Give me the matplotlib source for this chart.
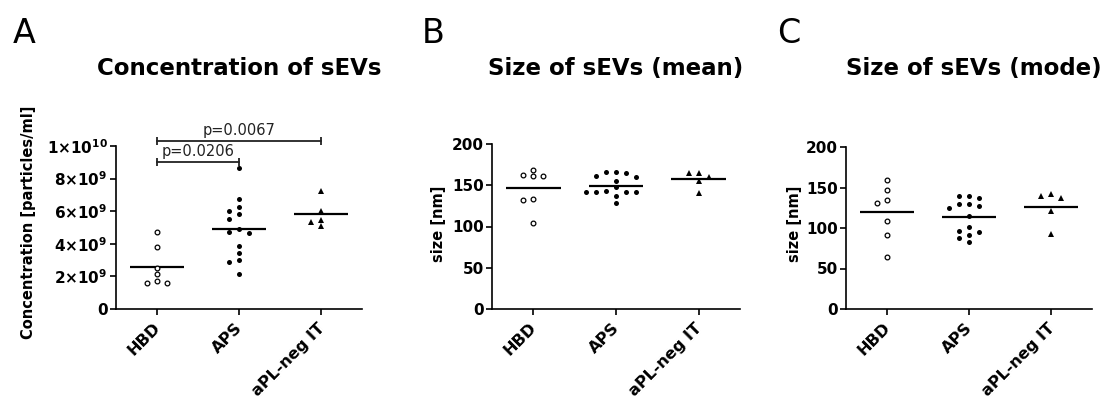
import numpy as np
import matplotlib
matplotlib.use("Agg")
import matplotlib.pyplot as plt
from matplotlib.transforms import ScaledTranslation

W, H = 1102, 399

groups = ["HBD", "APS", "aPL-neg IT"]

# A: concentration of sEVs (particles/ml)
conc_hbd = [4.72e9, 3.80e9, 2.53e9, 2.17e9, 1.72e9, 1.58e9, 1.58e9]
conc_aps = [8.63e9, 6.73e9, 6.26e9, 6.01e9, 5.81e9, 5.50e9, 4.91e9,
            4.74e9, 4.64e9, 3.87e9, 3.42e9, 3.01e9, 2.88e9, 2.13e9]
conc_it = [7.24e9, 6.01e9, 5.46e9, 5.32e9, 5.11e9]
conc_ticks = [0, 2e9, 4e9, 6e9, 8e9, 1e10]
conc_ticklabels = ["0", r"$\mathbf{2{\times}10^{9}}$", r"$\mathbf{4{\times}10^{9}}$",
                   r"$\mathbf{6{\times}10^{9}}$", r"$\mathbf{8{\times}10^{9}}$",
                   r"$\mathbf{1{\times}10^{10}}$"]

# p-value brackets: (from group, to group, height, label)
brackets = [(0, 1, 9.04e9, "p=0.0206"),
            (0, 2, 10.3e9, "p=0.0067")]

# B: size of sEVs (mean), nm
mean_hbd = [168.5, 162.4, 161.6, 161.6, 133.0, 132.1, 104.6]
mean_aps = [166.5, 165.7, 164.4, 161.6, 160.4, 155.5, 147.5,
            142.5, 141.4, 141.4, 141.4, 141.4, 137.3, 128.1]
mean_it = [165.2, 165.2, 160.4, 155.5, 140.2]

# C: size of sEVs (mode), nm
mode_hbd = [158.8, 146.5, 134.2, 130.9, 109.0, 91.0, 63.8]
mode_aps = [139.9, 139.9, 136.6, 129.6, 129.6, 127.2, 124.3,
            114.8, 100.8, 96.7, 94.7, 91.4, 87.2, 83.1]
mode_it = [142.0, 139.9, 136.7, 121.4, 92.6]

size_ticks = [0, 50, 100, 150, 200]

FONT = "DejaVu Sans"
plt.rcParams["font.family"] = FONT
plt.rcParams["mathtext.fontset"] = "dejavusans"


def px_axes(fig, l, t, r, b):
    return fig.add_axes([l / W, 1 - b / H, (r - l) / W, (b - t) / H])


def swarm_x(ax, xc, values, step=0.12, diam=5.5):
    """Greedy column scatter: put each point as close to the centre as it fits."""
    placed, xs = [], []
    order = [0, -1, 1, -2, 2, -3, 3, -4, 4]
    for v in values:
        for k in order:
            x, y = ax.transData.transform((xc + k * step, v))
            if all(np.hypot(x - px, y - py) >= diam for px, py in placed):
                break
        placed.append((x, y))
        xs.append(xc + k * step)
    return xs


def style_axes(fig, ax, ylim, ticks, ticklabels):
    ax.set_xlim(-0.5, 2.5)
    ax.set_ylim(*ylim)
    for s in ("top", "right"):
        ax.spines[s].set_visible(False)
    for s in ("left", "bottom"):
        ax.spines[s].set_linewidth(1.2)
    ax.set_yticks(ticks)
    ax.set_yticklabels(ticklabels, fontsize=11, fontweight="bold")
    ax.set_xticks(range(len(groups)))
    ax.set_xticklabels(groups, fontsize=11.5, fontweight="bold", rotation=45,
                       ha="right", va="top", rotation_mode="anchor")
    ax.tick_params(direction="out", length=4, width=1.2, pad=2)
    ax.tick_params(axis="x", pad=4)
    shift = ScaledTranslation(-3 / 72, 0, fig.dpi_scale_trans)
    for lab in ax.get_xticklabels():
        lab.set_transform(lab.get_transform() + shift)
    ax.patch.set_alpha(0)


def draw_groups(ax, series, tri_ms):
    styles = [dict(marker="o", mfc="white", mec="black", ms=3.4, mew=0.9),
              dict(marker="o", mfc="black", mec="black", ms=3.6, mew=0),
              dict(marker="^", mfc="black", mec="black", ms=tri_ms, mew=0)]
    for i, (vals, st) in enumerate(zip(series, styles)):
        xs = swarm_x(ax, i, vals)
        ax.plot(xs, vals, ls="none", clip_on=False, zorder=3, **st)
        m = np.mean(vals)
        ax.plot([i - 0.33, i + 0.33], [m, m], color="black", lw=1.6,
                solid_capstyle="butt", zorder=2)


fig = plt.figure(figsize=(W / 100, H / 100), dpi=100)

# ── Panel A ──────────────────────────────────────────────────────────────
axA = px_axes(fig, 116, 146, 362, 309)
style_axes(fig, axA, (0, 1e10), conc_ticks, conc_ticklabels)
draw_groups(axA, [conc_hbd, conc_aps, conc_it], tri_ms=3.8)
for g0, g1, y, label in brackets:
    axA.plot([g0, g1], [y, y], color="#222222", lw=1.3, marker="|", ms=6,
             mew=1.3, clip_on=False)
    axA.annotate(label, xy=((g0 + g1) / 2, y), xytext=(0, 2),
                 textcoords="offset points", ha="center", va="bottom",
                 fontsize=10.5, color="#222222", annotation_clip=False)

# ── Panel B ──────────────────────────────────────────────────────────────
axB = px_axes(fig, 492, 144, 740, 309)
style_axes(fig, axB, (0, 200), size_ticks, [str(t) for t in size_ticks])
draw_groups(axB, [mean_hbd, mean_aps, mean_it], tri_ms=3.8)

# ── Panel C ──────────────────────────────────────────────────────────────
axC = px_axes(fig, 846, 147, 1092, 309)
style_axes(fig, axC, (0, 200), size_ticks, [str(t) for t in size_ticks])
draw_groups(axC, [mode_hbd, mode_aps, mode_it], tri_ms=5.0)

# ── Titles, y labels, panel letters ─────────────────────────────────────
titles = [(239.5, "Concentration of sEVs"), (616, "Size of sEVs (mean)"),
          (974, "Size of sEVs (mode)")]
for x, t in titles:
    fig.text(x / W, 1 - 75 / H, t, ha="center", va="baseline",
             fontsize=16.5, fontweight="bold")

ylabels = [(28.5, 222, "Concentration [particles/ml]"), (438.5, 224, "size [nm]"),
           (794, 224, "size [nm]")]
for x, y, t in ylabels:
    fig.text(x / W, 1 - y / H, t, rotation=90, ha="center", va="center",
             fontsize=10.5, fontweight="bold")

for x, letter in [(13, "A"), (422, "B"), (777, "C")]:
    fig.text(x / W, 1 - 43 / H, letter, ha="left", va="baseline", fontsize=24)

fig.savefig("out.png", dpi=100, facecolor="white")
